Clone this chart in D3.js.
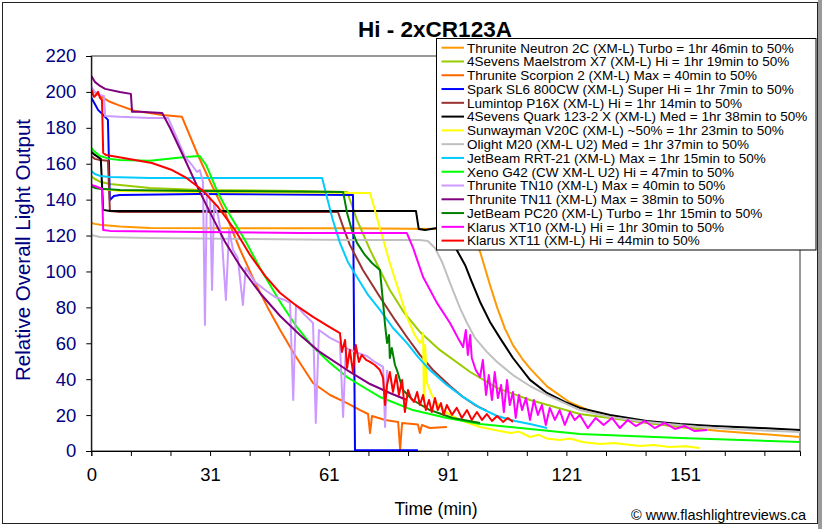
<!DOCTYPE html>
<html><head><meta charset="utf-8">
<script src="https://cdn.jsdelivr.net/npm/d3@7"></script>
<style>
html,body{margin:0;padding:0;background:#fff;}
svg{display:block;font-family:"Liberation Sans",Arial,sans-serif;}
</style></head>
<body>
<svg id="chart" width="822" height="529"></svg>
<script>
// ---------------- DATA ----------------
const chartTitle = "Hi - 2xCR123A";
const xTitle = "Time (min)";
const yTitle = "Relative Overall Light Output";
const credit = "\u00A9 www.flashlightreviews.ca";

const xTickValues = [0,30,60,90,120,150];
const xTickLabels = ["0","31","61","91","121","151"];
const yTickValues = [0,20,40,60,80,100,120,140,160,180,200,220];

const seriesNames = [
  "Thrunite Neutron 2C (XM-L) Turbo = 1hr 46min to 50%",
  "4Sevens Maelstrom X7 (XM-L) Hi = 1hr 19min to 50%",
  "Thrunite Scorpion 2 (XM-L) Max = 40min to 50%",
  "Spark SL6 800CW (XM-L) Super Hi = 1hr 7min to 50%",
  "Lumintop P16X (XM-L) Hi = 1hr 14min to 50%",
  "4Sevens Quark 123-2 X (XM-L) Med = 1hr 38min to 50%",
  "Sunwayman V20C (XM-L) ~50% = 1hr 23min to 50%",
  "Olight M20 (XM-L U2) Med = 1hr 37min to 50%",
  "JetBeam RRT-21 (XM-L) Max = 1hr 15min to 50%",
  "Xeno G42 (CW XM-L U2) Hi = 47min to 50%",
  "Thrunite TN10 (XM-L) Max = 40min to 50%",
  "Thrunite TN11 (XM-L) Max = 38min to 50%",
  "JetBeam PC20 (XM-L) Turbo = 1hr 15min to 50%",
  "Klarus XT10 (XM-L) Hi = 1hr 30min to 50%",
  "Klarus XT11 (XM-L) Hi = 44min to 50%"
];
const seriesColors = ["#FF9900","#99CC00","#FF6600","#0000FF","#993333","#000000","#FFFF00","#C0C0C0","#00CCFF","#00FF00","#CC99FF","#800080","#008000","#FF00FF","#FF0000"];

// each point: [time, relative output]
const neutron2C = [[0,127],[0.9,126.5],[2.2,126],[7.2,125],[14.8,124.2],[40,124],[65,124],[88,123.7],[93,123],[95.7,120],[98.2,111],[100.7,92.5],[102.5,80],[104.5,68],[106.5,59],[108.8,51.5],[110.8,46],[115.1,36],[120.9,27],[126,22.3],[131.7,19],[141,15.6],[148.7,13.4],[158.8,11.1],[169,9.5],[179,7.8]];
const maelstromX7 = [[0,153],[0.9,151.5],[2.2,150],[4.7,148.7],[9.8,147.6],[14.8,146.5],[27.4,145.4],[52.7,144.8],[64.6,144.3],[65.8,137],[67.1,128.7],[70.4,112],[75.4,89.7],[78.9,77.4],[83,66.3],[88,56.3],[95.7,44],[102.5,35.1],[110.8,28.4],[123.4,20.6],[140.3,15.6],[155.5,11.7]];
const scorpion2 = [[0,201],[2.2,197.8],[4.7,194.5],[6.7,192.8],[11,189.4],[14.8,188.3],[17.9,187.2],[22.9,186.1],[26.9,165],[30,150],[33.8,132.6],[37.6,112],[41.3,94.2],[44.6,79.7],[47.7,67.4],[51.4,53.5],[56,37.9],[60.3,31.2],[64.6,26.7],[67.9,22.8],[69.9,20.6],[70.4,10],[70.9,19.5],[74.2,17.3],[77.5,16.2],[78,1],[78.5,15.6],[82.5,14.8],[83,10],[83.5,14.5],[85.5,12.8],[89.8,13.4]];
const sparkSL6 = [[0,196.7],[0.9,193.3],[1.7,190],[3,187.2],[4.2,184.4],[4.7,139.8],[5.7,142],[7.2,142.6],[27.4,143.2],[66.1,142.6],[66.6,0.4],[82.5,0.4]];
const lumintopP16X = [[0,164.3],[0.9,162.7],[2.2,162.1],[4.2,161.6],[4.7,133.7],[7.2,133.1],[62.3,133.1],[63.6,124.8],[65.3,114.8],[68.6,100.8],[72.9,85.8],[76.7,73],[79.7,63.5],[83,53.5],[86.3,45.1],[90.6,36.2],[93.9,30.1],[96.9,25.6],[99.9,22.3]];
const quark123 = [[0,166.6],[0.9,164.9],[2.4,162.7],[3,134.3],[4.7,133.7],[82,133.7],[82.7,123.7],[84.3,123.1],[87.3,124.2],[89.8,119.2],[92.3,112],[94.4,103.6],[96.1,94.2],[98.2,83],[100.7,71.9],[103.2,63],[106.5,51.8],[110.8,39.6],[115.1,32.3],[119.6,27.3],[123.4,24],[131,20.1],[140.3,16.7],[148.7,15],[157,13.9],[169,12.8],[179,11.7]];
const sunwaymanV20C = [[0,147.6],[2.2,146],[7.2,144.8],[27.4,144.3],[70.4,143.7],[72.1,130.4],[75.4,104.7],[78,86.9],[79.7,74.7],[81.7,64.6],[83,60.2],[83.5,61.8],[83.8,65.7],[84,28.4],[84.3,59.1],[84.8,37.9],[86,31.2],[87.3,26.7],[89.8,21.2],[93.1,17.3],[98.2,13.4],[103.2,11.1],[106,10],[108,10.8],[110.8,7.8],[113,9],[115,7],[118.3,6.1],[121,7],[124,5],[128.4,3.9],[132,4.5],[138.5,2.8],[142,3.3],[146,2.2],[150,2.6],[153.7,1.7]];
const olightM20 = [[0,120.3],[2.2,119.2],[14.8,118.7],[40,118.1],[65.3,117.5],[83,117.5],[85,117],[86.8,113.1],[88.6,105.3],[90.6,93.6],[93.1,79.7],[94.9,71.3],[96.9,63],[99.9,55.2],[102.5,49.6],[106.5,42.3],[110.8,36.2],[115.1,31.2],[123.4,22.8],[131,18.9],[140.3,16.2],[153.7,13.4],[166.3,11.7],[179,10.6]];
const jetbeamRRT21 = [[0,156],[0.9,154.3],[2.2,153.2],[4.7,152.6],[14.8,152.1],[58.3,152.1],[59.5,141.5],[61,128.7],[62.8,115.9],[64.8,105.3],[67.1,96.9],[69.9,86.9],[72.9,78.6],[76.2,68.5],[79.7,60.2],[82.5,52.4],[85.5,45.1],[89.8,36.8],[93.9,30.1],[98.2,24],[102.5,19.5],[107,16.7],[110.8,15],[115.1,12.8]];
const xenoG42 = [[0,168.8],[0.9,166.6],[2.2,164.3],[4.7,162.7],[7.2,162.1],[14.8,161.6],[23.7,163.8],[27.4,164.3],[29,159.3],[32,143.7],[35,131.5],[38.8,117.5],[42.6,101.9],[47.7,83],[51.9,69.1],[56,57.9],[60.3,49],[64.6,41.2],[69.1,35.1],[72.9,30.1],[81.2,22.8],[89.8,18.4],[98.2,15],[110.8,12.3],[123.4,9.5],[148.7,7.2],[179,5]];
const thruniteTN10 = [[0,202.8],[0.9,200],[2.2,198.3],[3.2,197.8],[3.5,186.6],[7.2,186.1],[14.8,185.5],[19.4,185.5],[23.7,163.8],[25.4,159.3],[26.7,155.4],[27.4,156.5],[28.2,150],[28.7,70.2],[29.2,145.4],[30,139.8],[30.5,89.7],[31,137],[32,131.5],[33,117.5],[34,84.1],[34.8,123.1],[35.8,112],[37,107.5],[38.3,81.3],[39,101.9],[41.3,94.2],[43.9,89.7],[46.4,85.8],[48.9,84.1],[50.2,82.5],[51,28.4],[51.7,81.3],[53.9,75.8],[56,71.3],[56.7,15.6],[57.5,67.4],[60.3,63],[62.8,60.2],[63.6,18.9],[64.3,57.4],[66.6,55.2],[69.6,52.9],[71.6,49.6],[73.7,46.8],[74.2,13.4],[74.7,45.1]];
const thruniteTN11 = [[0,208.9],[0.9,205.6],[2.2,203.3],[3.5,201.7],[7.2,200],[10,198.9],[10.3,188.9],[12.3,188.9],[17.9,188.3],[19.9,179.9],[23.7,162.1],[27.4,144.3],[31.2,127.6],[33.8,116.4],[37.6,103],[42.6,88],[47.7,75.2],[52.7,64.6],[57.7,55.2],[64.6,45.1],[70.4,37.3],[75.4,32.3],[79.7,28.4]];
const jetbeamPC20 = [[0,147.6],[0.9,146.5],[2.2,146],[7.2,145.4],[27.4,144.8],[63.6,144.3],[64.6,132.6],[65.8,123.1],[67.1,115.9],[69.1,109.2],[70.9,104.7],[72.9,100.8],[73.7,82.5],[74.2,70.2],[74.7,60.2],[75.2,64.6],[75.4,51.8],[75.9,57.4],[76.7,47.9],[77.2,45.1],[78.7,34],[81.2,28.4],[85.5,22.8],[91.3,18.4],[98.2,15.6]];
const klarusXT10 = [[0,148.2],[0.9,147.6],[2.2,146.5],[2.7,146],[3,123.1],[4.7,122.6],[27.4,122],[52.7,121.4],[79.7,121.4],[81.2,113.6],[83.8,96.9],[87.3,82.5],[90.6,71.3],[92.6,63],[93.9,57.9],[94.6,67.4],[95.1,53.5],[95.7,64.6],[96.1,51.8],[97.1,45.1],[98.2,41.2],[98.9,50.7],[99.7,31.2],[100.4,42.3],[101.2,28.4],[101.9,44],[102.7,29.5],[103.5,36.8],[104.2,21.7],[105,39.6],[105.7,25.6],[106.5,32.9],[107.2,18.4],[108,31.2],[108.8,22.8],[109.8,29.5],[110.8,17.3],[111.8,28.4],[112.8,20.1],[113.8,25.6],[114.8,14.5],[115.8,24],[117.1,17.3],[118.3,22.8],[119.6,14.5],[120.9,21.7],[122.1,17.3],[123.4,20.1],[125.4,12.8],[127.4,18.4],[129.4,14.5],[131.5,18.4],[133.5,12.8],[135.5,17.3],[137.5,13.9],[139.8,16.7],[142.3,12.8],[144.8,15.6],[147.4,12.3],[149.9,13.9],[152.4,11.1],[155.5,11.7]];
const klarusXT11 = [[0,201.1],[0.7,197.2],[1.2,198.3],[1.7,200],[2.2,196.7],[2.7,195.5],[3,166],[3.7,164.9],[6.7,163.8],[11,162.1],[15.3,160.4],[20.4,156.5],[23.7,152.6],[28,145.4],[32,135.9],[36.3,123.1],[40.1,109.2],[43.9,97.5],[47.7,88],[51.9,80.8],[56,74.7],[59.8,69.6],[62.8,65.7],[63.3,55.2],[64.1,61.8],[64.6,46.2],[65.3,56.3],[66.1,44],[66.8,59.1],[67.6,49.6],[68.3,53.5],[69.4,50.7],[70.4,49.6],[71.6,47.9],[72.9,45.1],[73.7,40.7],[74.2,25.6],[74.7,36.8],[75.4,44],[76.2,32.9],[77,42.3],[77.7,31.2],[78.5,39.6],[79.2,21.7],[80,34],[80.7,29.5],[81.5,27.3],[82.3,32.9],[83,25.6],[83.8,31.2],[84.5,22.8],[85.3,28.4],[86,21.7],[86.8,29.5],[87.5,22.8],[88.3,26.7],[89,20.1],[89.8,25.6],[91.1,20.1],[92.3,24],[93.6,18.4],[94.9,22.8],[96.1,17.3],[97.4,21.7],[98.7,17.3],[99.9,20.6],[101.2,16.7],[102.5,19.5],[104,16.2],[105.2,18.4],[106.5,16.2]];

const seriesData = [neutron2C, maelstromX7, scorpion2, sparkSL6, lumintopP16X, quark123, sunwaymanV20C, olightM20, jetbeamRRT21, xenoG42, thruniteTN10, thruniteTN11, jetbeamPC20, klarusXT10, klarusXT11];

// ---------------- LAYOUT ----------------
const svg = d3.select("#chart");
const FONT = "'Liberation Sans', Arial, sans-serif";
const plot = {left: 91.3, right: 800, top: 56, bottom: 451};

const x = d3.scaleLinear().domain([0,179]).range([plot.left, plot.right]);
const y = d3.scaleLinear().domain([0,220]).range([plot.bottom, plot.top]);

// outer frame
svg.append("rect").attr("x",0).attr("y",0).attr("width",822).attr("height",529).attr("fill","#fff");
svg.append("rect").attr("x",818).attr("y",0).attr("width",4).attr("height",529).attr("fill","#9a9a9a");
svg.append("rect").attr("x",2.5).attr("y",2.5).attr("width",815).attr("height",521).attr("fill","none").attr("stroke","#222").attr("stroke-width",1);

// plot border
svg.append("rect").attr("x",plot.left).attr("y",plot.top).attr("width",plot.right-plot.left).attr("height",plot.bottom-plot.top)
  .attr("fill","#fff").attr("stroke","#333").attr("stroke-width",1);

// clip
svg.append("defs").append("clipPath").attr("id","clip").append("rect")
  .attr("x",plot.left).attr("y",plot.top-2).attr("width",plot.right-plot.left).attr("height",plot.bottom-plot.top+2);

const line = d3.line().x(d=>x(d[0])).y(d=>y(d[1]));
const gLines = svg.append("g").attr("clip-path","url(#clip)");
seriesData.forEach((s,i)=>{
  gLines.append("path").datum(s).attr("d",line).attr("fill","none")
    .attr("stroke",seriesColors[i]).attr("stroke-width",2).attr("stroke-linejoin","round");
});

// axes
const yAxis = d3.axisLeft(y).tickValues(yTickValues).tickSize(5).tickPadding(10);
const gy = svg.append("g").attr("transform",`translate(${plot.left},0)`).call(yAxis);
gy.select(".domain").attr("stroke","#000");
gy.selectAll("line").attr("stroke","#000");
gy.selectAll("text").attr("fill","#000080").style("font-size","18.5px").style("font-family",FONT);

const xAxis = d3.axisBottom(x).tickValues(d3.range(0,180,10)).tickSize(5).tickPadding(12)
  .tickFormat(d=>{const k=xTickValues.indexOf(d); return k>=0?xTickLabels[k]:"";});
const gx = svg.append("g").attr("transform",`translate(0,${plot.bottom})`).call(xAxis);
gx.select(".domain").attr("stroke","#000");
gx.selectAll("line").attr("stroke","#000");
gx.selectAll("text").attr("fill","#000").style("font-size","18.5px").style("font-family",FONT);

// titles
svg.append("text").attr("x",435).attr("y",36.5).attr("text-anchor","middle")
  .style("font-family",FONT).style("font-size","22.5px").style("font-weight","bold").text(chartTitle);
svg.append("text").attr("x",436).attr("y",514.5).attr("text-anchor","middle")
  .style("font-family",FONT).style("font-size","17.5px").text(xTitle);
svg.append("text").attr("transform","translate(30,250) rotate(-90)").attr("text-anchor","middle")
  .attr("fill","#000080").style("font-family",FONT).style("font-size","20.5px").text(yTitle);
svg.append("text").attr("x",806).attr("y",519.5).attr("text-anchor","end")
  .style("font-family",FONT).style("font-size","14.5px").text(credit);

// legend
const lg = svg.append("g");
lg.append("rect").attr("x",436.5).attr("y",38.5).attr("width",379.5).attr("height",211.5)
  .attr("fill","#fff").attr("stroke","#000").attr("stroke-width",1);
seriesNames.forEach((n,i)=>{
  const yy = 47.7 + i*13.78;
  lg.append("line").attr("x1",441.5).attr("x2",464).attr("y1",yy).attr("y2",yy)
    .attr("stroke",seriesColors[i]).attr("stroke-width",2);
  lg.append("text").attr("x",467).attr("y",yy).attr("dy","0.36em")
    .style("font-family",FONT).style("font-size","13.5px").text(n);
});
</script>
</body></html>
